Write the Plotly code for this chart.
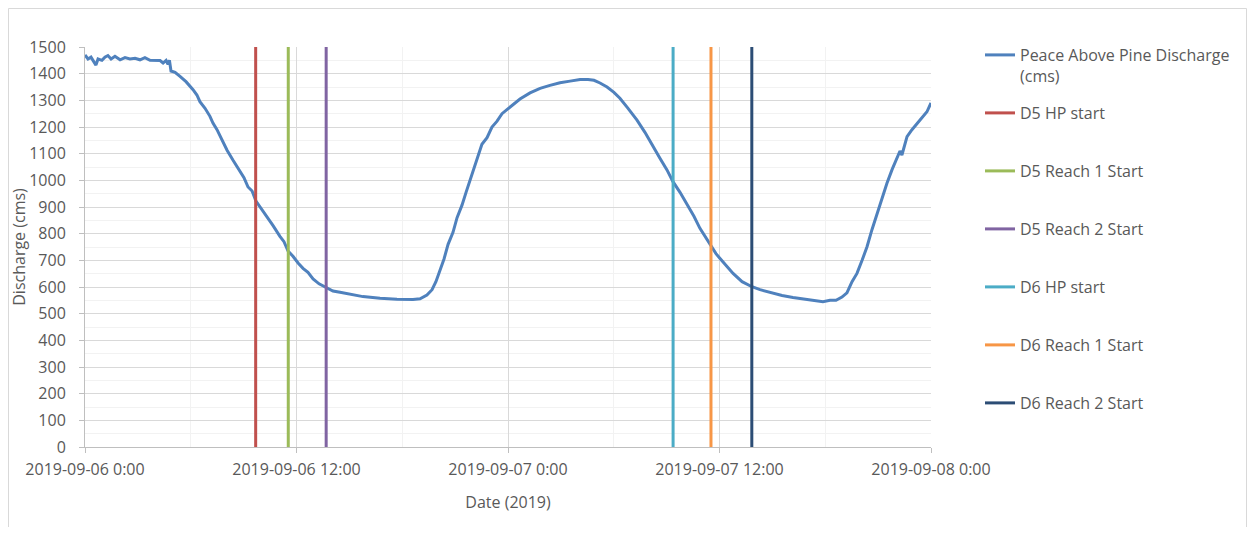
import pandas as pd
import plotly.graph_objects as go

# ---- data ----
start = "2019-09-06 00:00"
hours = [0.0, 0.17, 0.34, 0.45, 0.62, 0.74, 0.96, 1.13, 1.30, 1.48, 1.70, 1.99, 2.27, 2.55, 2.84,
         3.12, 3.40, 3.69, 3.97, 4.26, 4.43, 4.60, 4.71, 4.79, 4.88, 5.11, 5.39, 5.73, 6.13, 6.35,
         6.52, 6.81, 7.09, 7.26, 7.49, 7.77, 8.06, 8.40, 8.79, 9.02, 9.25, 9.48, 9.70, 9.99, 10.33,
         10.67, 11.06, 11.29, 11.52, 11.80, 12.09, 12.37, 12.65, 12.94, 13.28, 13.67, 14.07, 14.47,
         15.04, 15.77, 16.74, 17.70, 18.61, 19.01, 19.40, 19.69, 19.91, 20.14, 20.37, 20.60, 20.88,
         21.11, 21.39, 21.62, 21.84, 22.07, 22.30, 22.52, 22.81, 23.09, 23.38, 23.66, 23.94, 24.28,
         24.68, 25.25, 25.82, 26.38, 26.95, 27.52, 28.09, 28.54, 28.88, 29.22, 29.62, 30.01, 30.35,
         30.81, 31.32, 31.77, 32.23, 32.62, 33.02, 33.36, 33.76, 34.16, 34.55, 34.89, 35.23, 35.52,
         35.80, 36.03, 36.43, 36.77, 37.28, 37.84, 38.30, 38.86, 39.55, 40.17, 40.85, 41.42, 41.87,
         42.27, 42.61, 42.95, 43.23, 43.52, 43.80, 44.09, 44.37, 44.65, 44.94, 45.22, 45.50, 45.79,
         46.07, 46.24, 46.35, 46.64, 46.92, 47.21, 47.49, 47.77, 48.0]
discharge = [1470, 1455, 1462, 1450, 1432, 1455, 1450, 1462, 1468, 1455, 1465, 1452, 1460, 1455, 1458,
             1452, 1460, 1450, 1450, 1449, 1440, 1450, 1435, 1450, 1410, 1405, 1390, 1370, 1340, 1320,
             1295, 1270, 1240, 1215, 1190, 1150, 1113, 1075, 1032, 1010, 975, 960, 922, 895, 864,
             830, 790, 770, 735, 715, 690, 670, 655, 630, 612, 600, 585, 580,
             572, 564, 558, 554, 553, 556, 570, 590, 620, 660, 705, 760, 805,
             860, 907, 955, 1000, 1050, 1095, 1135, 1160, 1200, 1222, 1250, 1265, 1285,
             1305, 1328, 1345, 1356, 1366, 1372, 1378, 1378, 1375, 1365, 1350, 1330, 1308,
             1270, 1226, 1180, 1126, 1083, 1039, 995, 955, 910, 865, 820, 785, 757,
             725, 707, 675, 651, 620, 601, 590, 579, 568, 561, 555, 550, 545,
             550, 550, 562, 578, 620, 651, 700, 751, 815, 876, 935, 989, 1040,
             1083, 1110, 1095, 1164, 1190, 1214, 1235, 1257, 1290]

marker_names = ["D5 HP start", "D5 Reach 1 Start", "D5 Reach 2 Start",
                "D6 HP start", "D6 Reach 1 Start", "D6 Reach 2 Start"]
marker_times = ["2019-09-06 09:41", "2019-09-06 11:32", "2019-09-06 13:41",
                "2019-09-07 09:22", "2019-09-07 11:31", "2019-09-07 13:50"]
marker_colors = ["#C0504D", "#9BBB59", "#8064A2", "#4BACC6", "#F79646", "#2C4D75"]

series_name = "Peace Above Pine Discharge<br>(cms)"
tick_vals = ["2019-09-06 00:00", "2019-09-06 12:00", "2019-09-07 00:00",
             "2019-09-07 12:00", "2019-09-08 00:00"]
tick_text = ["2019-09-06 0:00", "2019-09-06 12:00", "2019-09-07 0:00",
             "2019-09-07 12:00", "2019-09-08 0:00"]
y_min, y_max = 0, 1500

# ---- figure ----
times = pd.Timestamp(start) + pd.to_timedelta(hours, unit="h")
FONT = "Open Sans"
SPACER = "<br>\u00a0"

fig = go.Figure()
fig.add_trace(go.Scatter(x=times, y=discharge, mode="lines", name=series_name,
                         line=dict(color="#4F81BD", width=3), legendgroup="s"))
for n, t, c in zip(marker_names, marker_times, marker_colors):
    fig.add_trace(go.Scatter(x=[t, t], y=[y_min, y_max], mode="lines", name=n + SPACER,
                             line=dict(color=c, width=3), legendgroup=n))

# page body has an 8px margin: work in figure pixels = screen pixels - 8
OFF = 8
W, H = 1255 - 2 * OFF, 535 - 2 * OFF
L, R, T, B = 85 - OFF, 931 - OFF, 47 - OFF, 447 - OFF
pw, ph = R - L, B - T


def px(x):
    return (x - L) / pw


def py(y):
    return (B - y) / ph


fig.add_shape(type="rect", xref="paper", yref="paper",
              x0=px(0.5), x1=px(W - 0.5), y0=py(H + 20), y1=py(0.5),
              line=dict(color="#D9D9D9", width=1), layer="below")

fig.update_layout(
    width=W, height=H,
    margin=dict(l=L, r=W - R, t=T, b=H - B, autoexpand=False),
    paper_bgcolor="white", plot_bgcolor="white",
    font=dict(family=FONT, size=16, color="#595959"),
    showlegend=True,
    legend=dict(x=px(980 - OFF), y=py(38 - OFF), xanchor="left", yanchor="top",
                valign="top", tracegroupgap=13.4, maxheight=480,
                font=dict(family=FONT, size=16, color="#595959"),
                bgcolor="rgba(0,0,0,0)"),
    xaxis=dict(
        type="date",
        range=[tick_vals[0], tick_vals[-1]],
        tickmode="array", tickvals=tick_vals, ticktext=tick_text,
        showgrid=True, gridcolor="#D9D9D9", gridwidth=1,
        showline=True, linecolor="#BFBFBF", linewidth=1,
        ticks="outside", ticklen=5, tickcolor="#BFBFBF",
        ticklabelstandoff=3,
        minor=dict(dtick=6 * 3600 * 1000, tick0=tick_vals[0], showgrid=True,
                   gridcolor="#F2F2F2", gridwidth=1, ticks=""),
        title=dict(text="Date (2019)", standoff=17, font=dict(size=16)),
        zeroline=False, automargin=False,
    ),
    yaxis=dict(
        range=[y_min, y_max], dtick=100, tick0=0,
        showgrid=True, gridcolor="#D9D9D9", gridwidth=1,
        showline=True, linecolor="#BFBFBF", linewidth=1,
        ticks="outside", ticklen=5, tickcolor="#BFBFBF",
        ticklabelstandoff=10,
        minor=dict(dtick=50, showgrid=True, gridcolor="#F2F2F2", gridwidth=1, ticks=""),
        title=dict(text="Discharge (cms)", standoff=0, font=dict(size=16)),
        zeroline=False, automargin=False,
    ),
)

fig.write_html("out.html")
